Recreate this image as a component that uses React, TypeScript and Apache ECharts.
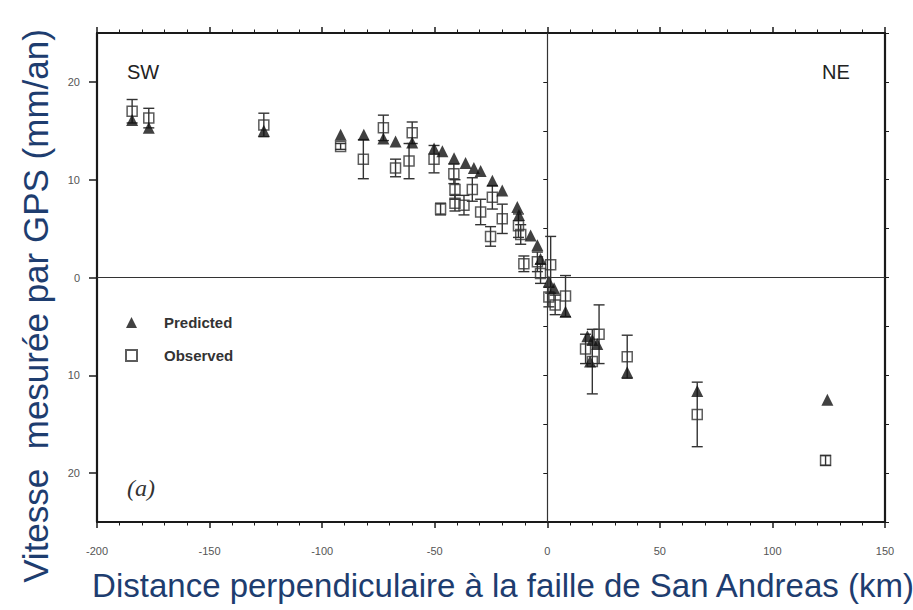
import React, { useEffect, useRef } from "react";
import * as echarts from "echarts";

// Observed GPS velocities (km, mm/an, ± error)
const obsX = [-184.4, -177, -125.9, -91.8, -81.7, -72.8, -67.4, -60, -61.4, -50.3, -47.4, -41.5, -41, -41, -37, -33.3, -29.6, -25.2, -24.4, -20, -12.8, -11.8, -10.4, -4.4, -3, 1.5, 0.7, 3.5, 8.1, 17, 20, 23, 35.5, 66.6, 123.6];
const obsY = [17.0, 16.3, 15.6, 13.4, 12.1, 15.3, 11.2, 14.8, 11.9, 12.1, 7.0, 10.6, 9.0, 7.6, 7.4, 9.0, 6.7, 4.2, 8.2, 6.0, 5.3, 4.4, 1.4, 1.6, 0.4, 1.3, -2.0, -2.8, -1.9, -7.3, -8.6, -5.8, -8.1, -14.0, -18.7];
const obsErr = [1.2, 1.0, 1.2, 0.3, 2.0, 1.3, 0.9, 1.1, 1.8, 1.4, 0.6, 1.0, 1.0, 0.8, 1.0, 1.2, 1.3, 1.0, 1.2, 1.5, 1.2, 1.0, 0.8, 1.0, 1.0, 2.9, 1.0, 1.0, 2.1, 1.5, 3.3, 3.0, 2.2, 3.3, 0.5];

// Predicted velocities
const predX = [-184.4, -177, -125.9, -91.8, -81.5, -72.8, -67.4, -60, -50.3, -46.6, -41.4, -36.3, -32.6, -29.6, -24.4, -20, -13.3, -12.6, -7.4, -4.4, -3, 0.7, 3, 8.1, 17.8, 20, 22.2, 19, 35.5, 66.6, 124.4];
const predY = [16.1, 15.3, 15.0, 14.6, 14.6, 14.2, 13.9, 13.8, 13.2, 12.9, 12.2, 11.7, 11.2, 10.9, 9.9, 8.9, 7.2, 6.4, 4.3, 3.3, 1.9, -0.4, -1.1, -3.5, -6.0, -6.4, -6.8, -8.6, -9.7, -11.6, -12.5];

const xTitle = "Distance perpendiculaire à la faille de San Andreas (km)";
const yTitle = "Vitesse  mesurée par GPS (mm/an)";

export default function App() {
  const ref = useRef<HTMLDivElement>(null);
  useEffect(() => {
    if (!ref.current) return;
    const chart = echarts.init(ref.current, null, { renderer: "svg" });
    const ink = "#1a1a1a";
    const axisLine = { show: true, onZero: false, lineStyle: { color: ink, width: 2.2 } };
    const obsData = obsX.map((x, i) => [x, obsY[i], obsErr[i]]);
    const predData = predX.map((x, i) => [x, predY[i]]);
    chart.setOption({
      animation: false,
      backgroundColor: "#fff",
      grid: { left: 97, right: 28, top: 33, bottom: 88 },
      legend: {
        orient: "vertical",
        left: 120,
        top: 310,
        itemGap: 18,
        itemWidth: 11,
        itemHeight: 11,
        textStyle: { color: "#333", fontSize: 15, fontWeight: "bold", fontFamily: "Liberation Sans", padding: [0, 0, 0, 22] },
        data: [
          { name: "Predicted", icon: "triangle" },
          { name: "Observed", icon: "rect" },
        ],
      },
      xAxis: [
        {
          type: "value", min: -200, max: 150, interval: 50, position: "bottom",
          axisLine, axisTick: { show: true, length: 6, lineStyle: { color: ink, width: 1.5 } },
          minorTick: { show: true, splitNumber: 5, length: 3.5, lineStyle: { color: ink, width: 1 } },
          axisLabel: { color: "#555", fontSize: 11, margin: 23, fontFamily: "Liberation Sans" },
          splitLine: { show: false },
        },
        {
          type: "value", min: -200, max: 150, interval: 50, position: "top",
          axisLine, axisTick: { show: true, length: 6, lineStyle: { color: ink, width: 1.5 } },
          minorTick: { show: true, splitNumber: 5, length: 3.5, lineStyle: { color: ink, width: 1 } },
          axisLabel: { show: false }, splitLine: { show: false },
        },
      ],
      yAxis: [
        {
          type: "value", min: -25, max: 25, position: "left",
          axisLine, axisTick: { show: true, length: 8, lineStyle: { color: ink, width: 1.5 } },
          axisLabel: {
            color: "#555", fontSize: 11, margin: 17, fontFamily: "Liberation Sans",
            showMinLabel: false, showMaxLabel: false,
            formatter: (v: number) => String(Math.abs(v)),
          },
          splitLine: { show: false },
        },
        {
          type: "value", min: -25, max: 25, interval: 5, position: "left",
          axisLine: { show: false }, axisTick: { show: true, length: 4, lineStyle: { color: ink, width: 1 } },
          axisLabel: { show: false }, splitLine: { show: false },
        },
        {
          type: "value", min: -25, max: 25, interval: 5, position: "right",
          axisLine, axisTick: { show: true, length: 4, lineStyle: { color: ink, width: 1 } },
          axisLabel: { show: false }, splitLine: { show: false },
        },
      ],
      series: [
        {
          type: "custom",
          name: "errbar",
          xAxisIndex: 0, yAxisIndex: 0,
          data: obsData,
          encode: { x: 0, y: 1 },
          z: 2,
          renderItem: (params: any, api: any) => {
            const x = api.value(0), y = api.value(1), e = api.value(2);
            const top = api.coord([x, y + e]);
            const bot = api.coord([x, y - e]);
            const hw = 5.5;
            const style = { stroke: "#333", lineWidth: 1.4 };
            return {
              type: "group",
              children: [
                { type: "line", shape: { x1: top[0], y1: top[1], x2: bot[0], y2: bot[1] }, style },
                { type: "line", shape: { x1: top[0] - hw, y1: top[1], x2: top[0] + hw, y2: top[1] }, style },
                { type: "line", shape: { x1: bot[0] - hw, y1: bot[1], x2: bot[0] + hw, y2: bot[1] }, style },
              ],
            };
          },
          silent: true,
        },
        {
          type: "scatter",
          name: "Observed",
          data: obsData.map((d) => [d[0], d[1]]),
          symbol: "rect",
          symbolSize: 10,
          itemStyle: { color: "rgba(255,255,255,0)", borderColor: "#333", borderWidth: 1.5 },
          z: 3,
        },
        {
          type: "scatter",
          name: "Predicted",
          data: predData,
          symbol: "triangle",
          symbolSize: 12,
          itemStyle: { color: "#111" },
          z: 4,
          markLine: {
            silent: true,
            symbol: "none",
            label: { show: false },
            lineStyle: { color: "#333", width: 1.2, type: "solid" },
            data: [{ xAxis: 0 }, { yAxis: 0 }],
          },
        },
      ],
      graphic: [
        { type: "text", left: 127, top: 62, style: { text: "SW", fontSize: 20, fill: "#222", fontFamily: "Liberation Sans" } },
        { type: "text", left: 822, top: 62, style: { text: "NE", fontSize: 20, fill: "#222", fontFamily: "Liberation Sans" } },
        { type: "text", left: 127, top: 476, style: { text: "(a)", fontSize: 24, fontStyle: "italic", fill: "#333", fontFamily: "Liberation Serif" } },
        {
          type: "text", x: 503, y: 585,
          style: { text: xTitle, fontSize: 33, fill: "#1e3d6f", fontFamily: "Liberation Sans", align: "center", verticalAlign: "middle" },
        },
        {
          type: "text", x: 35, y: 306, rotation: Math.PI / 2,
          style: { text: yTitle, fontSize: 35, fill: "#1e3d6f", fontFamily: "Liberation Sans", align: "center", verticalAlign: "middle" },
        },
      ],
    });
    return () => chart.dispose();
  }, []);
  return <div ref={ref} style={{ position: "fixed", left: 0, top: 0, width: 913, height: 610 }} />;
}
